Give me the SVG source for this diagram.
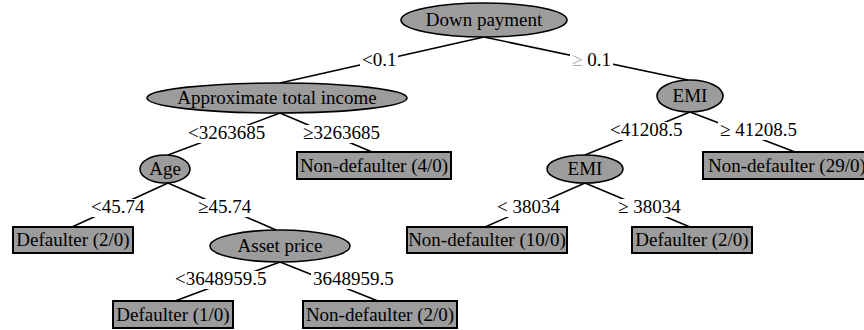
<svg xmlns="http://www.w3.org/2000/svg" width="864" height="330" viewBox="0 0 864 330">
<style>
text{font-family:"Liberation Serif",Tinos,"Times New Roman",Times,"DejaVu Serif",serif;font-size:19px;fill:#000}
.n ellipse{fill:#9c9c9c;stroke:#000;stroke-width:1.6}
.n rect{fill:#9c9c9c;stroke:#000;stroke-width:2}
.c line{stroke:#000;stroke-width:1.6}
.c rect{fill:#fff}
.m{text-anchor:middle}
.g{fill:#aaa}
</style>
<rect width="864" height="330" fill="#fff"/>
<g id="connectors" class="c">
<line x1="484" y1="37" x2="280" y2="83"/>
<line x1="484" y1="37" x2="688" y2="80"/>
<line x1="280" y1="113" x2="168" y2="155"/>
<line x1="280" y1="113" x2="372" y2="152"/>
<line x1="690" y1="112" x2="585" y2="155"/>
<line x1="690" y1="112" x2="795" y2="152"/>
<line x1="168" y1="183" x2="72" y2="227"/>
<line x1="168" y1="183" x2="276" y2="230"/>
<line x1="585" y1="183" x2="485" y2="227"/>
<line x1="585" y1="183" x2="690" y2="227"/>
<line x1="280" y1="262" x2="175" y2="301"/>
<line x1="280" y1="262" x2="378" y2="301"/>
<rect x="360" y="52" width="38" height="18"/><text x="362" y="66">&lt;0.1</text>
<rect x="570" y="52" width="43" height="18"/><text x="572" y="66"><tspan class="g">≥</tspan> 0.1</text>
<rect x="186" y="125" width="81" height="18"/><text x="188" y="139">&lt;3263685</text>
<rect x="301" y="125" width="81" height="18"/><text x="303" y="139">≥3263685</text>
<rect x="608" y="122" width="76" height="18"/><text x="610" y="136">&lt;41208.5</text>
<rect x="718" y="122" width="81" height="18"/><text x="720" y="136">≥ 41208.5</text>
<rect x="89" y="199" width="57" height="18"/><text x="91" y="213">&lt;45.74</text>
<rect x="196" y="199" width="57" height="18"/><text x="198" y="213">≥45.74</text>
<rect x="495" y="199" width="67" height="18"/><text x="497" y="213">&lt; 38034</text>
<rect x="616" y="199" width="67" height="18"/><text x="618" y="213">≥ 38034</text>
<rect x="173" y="271" width="95" height="18"/><text x="175" y="285">&lt;3648959.5</text>
<rect x="311" y="271" width="85" height="18"/><text x="313" y="285">3648959.5</text>
</g>
<g id="down-payment" class="n"><ellipse cx="484" cy="20" rx="83" ry="17"/><text class="m" x="484" y="26">Down payment</text></g>
<g id="approx-income" class="n"><ellipse cx="277" cy="98" rx="130" ry="15"/><text class="m" x="277" y="104">Approximate total income</text></g>
<g id="emi-1" class="n"><ellipse cx="690" cy="96" rx="33" ry="16"/><text class="m" x="690" y="102">EMI</text></g>
<g id="age" class="n"><ellipse cx="165" cy="169" rx="25" ry="14"/><text class="m" x="165" y="175">Age</text></g>
<g id="nondef-4-0" class="n"><rect x="297" y="152" width="154" height="27"/><text class="m" x="374" y="172">Non-defaulter (4/0)</text></g>
<g id="emi-2" class="n"><ellipse cx="585" cy="169" rx="38" ry="14"/><text class="m" x="585" y="175">EMI</text></g>
<g id="nondef-29-0" class="n"><rect x="703" y="152" width="165" height="27"/><text x="708" y="172">Non-defaulter (29/0)</text></g>
<g id="def-2-0-a" class="n"><rect x="13" y="227" width="120" height="26"/><text class="m" x="73" y="246">Defaulter (2/0)</text></g>
<g id="asset-price" class="n"><ellipse cx="280" cy="246" rx="70" ry="16"/><text class="m" x="280" y="252">Asset price</text></g>
<g id="nondef-10-0" class="n"><rect x="407" y="227" width="160" height="26"/><text class="m" x="487" y="246">Non-defaulter (10/0)</text></g>
<g id="def-2-0-b" class="n"><rect x="632" y="227" width="120" height="26"/><text class="m" x="692" y="246">Defaulter (2/0)</text></g>
<g id="def-1-0" class="n"><rect x="113" y="301" width="120" height="27"/><text class="m" x="173" y="321">Defaulter (1/0)</text></g>
<g id="nondef-2-0" class="n"><rect x="303" y="301" width="154" height="27"/><text class="m" x="380" y="321">Non-defaulter (2/0)</text></g>
</svg>
